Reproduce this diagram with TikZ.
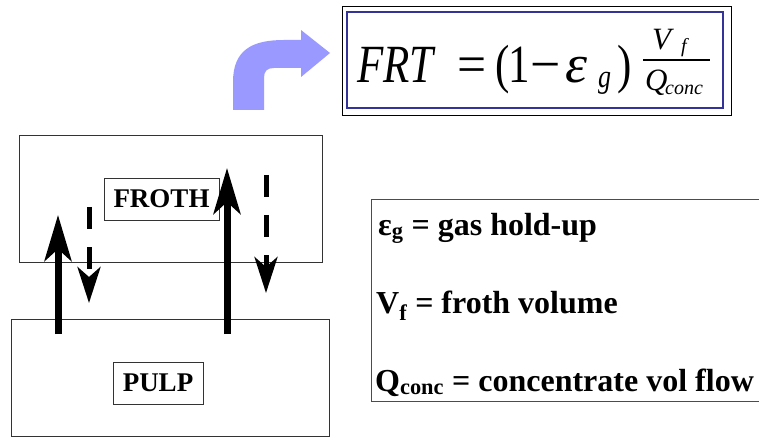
\documentclass[tikz,border=0pt]{standalone}
\usepackage{fontspec}
\setmainfont{Liberation Serif}
\usetikzlibrary{arrows.meta}
\definecolor{arrowblue}{HTML}{9999FF}
\definecolor{frameblue}{HTML}{333399}
\newcommand\fml[1]{\scalebox{1}[1.25]{#1}}
\newcommand\fmlw[2]{\scalebox{#1}[1.25]{#2}}
\tikzset{
  boxline/.style={draw=black!80, line width=0.9pt},
  zone/.style={boxline, inner sep=0pt},
  tag/.style={boxline, inner sep=0pt, font=\fontsize{27}{27}\selectfont\bfseries},
  uparrow/.style={line width=7pt, -{Stealth[length=46pt, width=27pt, inset=12pt]}},
  downarrow/.style={line width=5pt, dash pattern=on 22pt off 18pt, -{Stealth[length=36pt, width=23pt, inset=10pt]}},
  fbig/.style={anchor=base west, inner sep=0pt, font=\fontsize{43}{43}\selectfont},
  fmid/.style={anchor=base west, inner sep=0pt, font=\fontsize{26}{26}\selectfont},
  fnum/.style={anchor=base west, inner sep=0pt, font=\fontsize{31}{31}\selectfont\itshape},
  fsmall/.style={anchor=base west, inner sep=0pt, font=\fontsize{20}{20}\selectfont\itshape},
  legend/.style={anchor=base west, inner sep=0pt, font=\fontsize{32}{32}\selectfont\bfseries},
}
\begin{document}
\begin{tikzpicture}[x=1pt, y=-1pt]
\useasboundingbox (0,0) rectangle (759,438);

% zones
\node[zone, minimum width=303pt, minimum height=127pt] (froth) at (170.5,198.5) {};
\node[zone, minimum width=318pt, minimum height=117pt] (pulp) at (170,377.5) {};
\node[tag, minimum width=115pt, minimum height=42pt] (frothlbl) at (161.5,199) {FROTH};
\node[tag, minimum width=90pt, minimum height=42pt] (pulplbl) at (158,383) {PULP};

% flows
\coordinate (u1s) at (58,334);
\coordinate (u1e) at (58,215);
\coordinate (u2s) at (227,334);
\coordinate (u2e) at (227,168);
\coordinate (d1s) at (89,207);
\coordinate (d1e) at (89,303);
\coordinate (d2s) at (266,175);
\coordinate (d2e) at (266,293);
\draw[uparrow] (u1s) -- (u1e);
\draw[uparrow] (u2s) -- (u2e);
\draw[downarrow] (d1s) -- (d1e);
\draw[downarrow] (d2s) -- (d2e);

% curved blue arrow
\fill[arrowblue] (233,110) -- (233,82) .. controls (233,50) and (252,40) .. (284,40)
  -- (301,40) -- (301,30) -- (330,53) -- (301,77) -- (301,68) -- (274,68)
  .. controls (267,68) and (264,71) .. (264,78) -- (264,110) -- cycle;

% formula frame
\node[draw=black, line width=0.9pt, minimum width=389pt, minimum height=109pt, inner sep=0pt] (fouter) at (536.5,60.5) {};
\node[draw=frameblue, line width=1.3pt, minimum width=376pt, minimum height=96pt, inner sep=0pt] (finner) at (535,60) {};

% formula
\node[fbig] (frt) at (357,83) {\fml{\itshape FRT}};
\node[fbig] (eq) at (457,83) {\fmlw{1.2}{=}};
\node[fbig] (lpar) at (495,83) {\fml{(}};
\node[fbig] (one) at (508,83) {\fml{1}};
\node[fbig] (minus) at (530,83) {\fmlw{1.25}{−}};
\node[fbig] (eps) at (565,83) {\fmlw{1.3}{\itshape ε}};
\node[fmid] (gsub) at (598,88) {\fml{\itshape g}};
\node[fbig] (rpar) at (617,83) {\fml{)}};
\coordinate (fl) at (643,60);
\coordinate (fr) at (710,60);
\draw[line width=1.4pt] (fl) -- (fr);
\node[fnum] (vnum) at (652,50) {V};
\node[fsmall] (fsub) at (681,53) {f};
\node[fnum] (qden) at (645,91) {Q};
\node[fsmall] (conc) at (665,95) {conc};

% legend
\draw[draw=black!70, line width=0.9pt] (760,199) -- (371,199) -- (371,401) -- (760,401);
\node[legend] (l1) at (378,235) {ε\textsubscript{g} = gas hold-up};
\node[legend] (l2) at (376,313) {V\textsubscript{f} = froth volume};
\node[legend] (l3) at (375,391) {Q\textsubscript{conc} = concentrate vol flow};
\end{tikzpicture}
\end{document}
